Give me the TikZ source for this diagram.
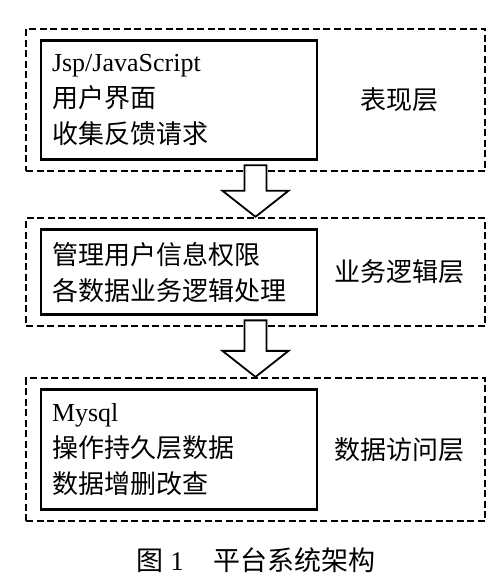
\documentclass[tikz,border=0pt]{standalone}
\usepackage{fontspec}
\setmainfont{Liberation Serif}
\newfontfamily\cjk{Noto Sans CJK SC}
\usepackage{tikz}
\usetikzlibrary{positioning,calc}

\begin{document}
\begin{tikzpicture}[x=1pt, y=1pt,
    layerbox/.style={draw, dash pattern=on 7pt off 3.5pt, line width=2.6pt, minimum width=459pt},
    modbox/.style={draw, line width=2.6pt, minimum width=276pt, text width=254pt, inner xsep=11pt, align=left, anchor=west, font=\fontsize{26}{36}\selectfont},
    layername/.style={font=\cjk\fontsize{26}{36}\selectfont},
    fatarrow/.style={draw, line width=1.8pt, fill=white, line join=miter}]
    \useasboundingbox (0,0) rectangle (500,585);

    % Drei Schichten (gestrichelte Rahmen)
    \node[layerbox, minimum height=142pt] (layer1) at (255.5,485) {};
    \node[layerbox, minimum height=108pt, below=44.5pt of layer1] (layer2) {};
    \node[layerbox, minimum height=143pt, below=49.5pt of layer2] (layer3) {};

    % Inhalt der Schichten
    \node[modbox, minimum height=119pt] (mod1) at ($(layer1.west)+(15,0)$) {Jsp/JavaScript\\{\cjk 用户界面}\\{\cjk 收集反馈请求}};
    \node[modbox, minimum height=85pt] (mod2) at ($(layer2.west)+(15,0)$) {{\cjk 管理用户信息权限}\\{\cjk 各数据业务逻辑处理}};
    \node[modbox, minimum height=120pt] (mod3) at ($(layer3.west)+(15,0)$) {Mysql\\{\cjk 操作持久层数据}\\{\cjk 数据增删改查}};

    % Namen der Schichten
    \node[layername, xshift=-3pt] (name1) at ($(mod1.east)!0.5!(layer1.east)$) {表现层};
    \node[layername, xshift=-3pt] (name2) at ($(mod2.east)!0.5!(layer2.east)$) {业务逻辑层};
    \node[layername, xshift=-3pt] (name3) at ($(mod3.east)!0.5!(layer3.east)$) {数据访问层};

    % Blockpfeile zwischen den Schichten
    \draw[fatarrow] ($(layer1.south)+(-11,7)$) -- ($(layer2.north)+(-11,26)$) -- ++(-22,0) -- (layer2.north)
        -- ++(33,26) -- ++(-22,0) -- ($(layer1.south)+(11,7)$) -- cycle;
    \draw[fatarrow] ($(layer2.south)+(-11,7)$) -- ($(layer3.north)+(-11,26)$) -- ++(-22,0) -- (layer3.north)
        -- ++(33,26) -- ++(-22,0) -- ($(layer2.south)+(11,7)$) -- cycle;

    % Bildunterschrift
    \node[font=\fontsize{27}{30}\selectfont] (caption) at (256,25) {{\cjk 图}~1\hspace{1.1em}{\cjk 平台系统架构}};
\end{tikzpicture}
\end{document}
